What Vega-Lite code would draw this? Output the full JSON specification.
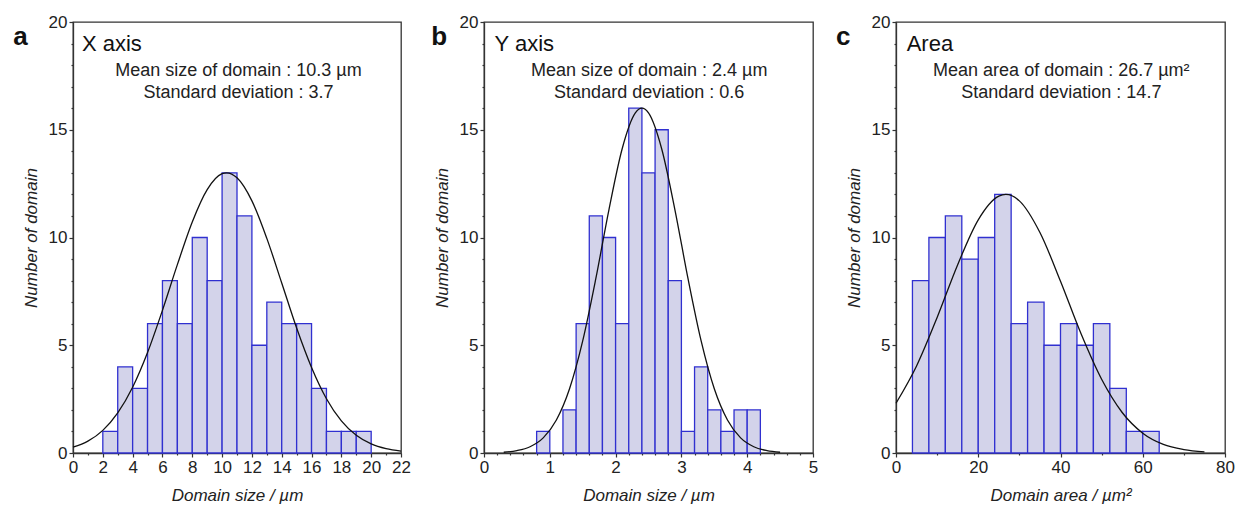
{
  "$schema": "https://vega.github.io/schema/vega-lite/v6.json",
  "background": "white",
  "padding": {"left": 12, "top": 12, "right": 5, "bottom": 5},
  "bounds": "flush",
  "spacing": 83,
  "config": {
    "font": "Liberation Sans",
    "view": {"stroke": "#333333", "strokeWidth": 1.3},
    "axis": {
      "grid": false,
      "domainColor": "#333333",
      "domainWidth": 1.3,
      "tickColor": "#333333",
      "tickWidth": 1.2,
      "tickCount": 200,
      "labelColor": "#222222",
      "labelFont": "Liberation Sans",
      "labelFontSize": 17,
      "labelPadding": 2,
      "labelOverlap": false,
      "labelFlush": false,
      "titleColor": "#222222",
      "titleFont": "Liberation Sans",
      "titleFontSize": 17,
      "titleFontStyle": "italic",
      "titleFontWeight": "normal"
    },
    "axisY": {"titlePadding": 8},
    "axisX": {"titlePadding": 12}
  },
  "datasets": {
    "aBins": [
      {"lo": 2, "hi": 3, "n": 1}, {"lo": 3, "hi": 4, "n": 4}, {"lo": 4, "hi": 5, "n": 3},
      {"lo": 5, "hi": 6, "n": 6}, {"lo": 6, "hi": 7, "n": 8}, {"lo": 7, "hi": 8, "n": 6},
      {"lo": 8, "hi": 9, "n": 10}, {"lo": 9, "hi": 10, "n": 8}, {"lo": 10, "hi": 11, "n": 13},
      {"lo": 11, "hi": 12, "n": 11}, {"lo": 12, "hi": 13, "n": 5}, {"lo": 13, "hi": 14, "n": 7},
      {"lo": 14, "hi": 15, "n": 6}, {"lo": 15, "hi": 16, "n": 6}, {"lo": 16, "hi": 17, "n": 3},
      {"lo": 17, "hi": 18, "n": 1}, {"lo": 18, "hi": 19, "n": 1}, {"lo": 19, "hi": 20, "n": 1}
    ],
    "aFit": [
      {"x": 0, "y": 0.27}, {"x": 1, "y": 0.55}, {"x": 2, "y": 1.05}, {"x": 3, "y": 1.86},
      {"x": 4, "y": 3.05}, {"x": 5, "y": 4.66}, {"x": 6, "y": 6.62}, {"x": 7, "y": 8.74},
      {"x": 8, "y": 10.72}, {"x": 9, "y": 12.22}, {"x": 10, "y": 12.96}, {"x": 10.3, "y": 13.0},
      {"x": 11, "y": 12.77}, {"x": 12, "y": 11.7}, {"x": 13, "y": 9.96}, {"x": 14, "y": 7.89},
      {"x": 15, "y": 5.8}, {"x": 16, "y": 3.97}, {"x": 17, "y": 2.52}, {"x": 18, "y": 1.49},
      {"x": 19, "y": 0.82}, {"x": 20, "y": 0.42}, {"x": 21, "y": 0.2}, {"x": 22, "y": 0.09}
    ],
    "bBins": [
      {"lo": 0.8, "hi": 1.0, "n": 1}, {"lo": 1.2, "hi": 1.4, "n": 2}, {"lo": 1.4, "hi": 1.6, "n": 6},
      {"lo": 1.6, "hi": 1.8, "n": 11}, {"lo": 1.8, "hi": 2.0, "n": 10}, {"lo": 2.0, "hi": 2.2, "n": 6},
      {"lo": 2.2, "hi": 2.4, "n": 16}, {"lo": 2.4, "hi": 2.6, "n": 13}, {"lo": 2.6, "hi": 2.8, "n": 15},
      {"lo": 2.8, "hi": 3.0, "n": 8}, {"lo": 3.0, "hi": 3.2, "n": 1}, {"lo": 3.2, "hi": 3.4, "n": 4},
      {"lo": 3.4, "hi": 3.6, "n": 2}, {"lo": 3.6, "hi": 3.8, "n": 1}, {"lo": 3.8, "hi": 4.0, "n": 2},
      {"lo": 4.0, "hi": 4.2, "n": 2}
    ],
    "bFit": [
      {"x": 0.3, "y": 0.035}, {"x": 0.5, "y": 0.11}, {"x": 0.7, "y": 0.29}, {"x": 0.9, "y": 0.7},
      {"x": 1.1, "y": 1.53}, {"x": 1.3, "y": 2.98}, {"x": 1.5, "y": 5.2}, {"x": 1.7, "y": 8.1},
      {"x": 1.9, "y": 11.31}, {"x": 2.1, "y": 14.12}, {"x": 2.3, "y": 15.78}, {"x": 2.4, "y": 16.0},
      {"x": 2.5, "y": 15.78}, {"x": 2.7, "y": 14.12}, {"x": 2.9, "y": 11.31}, {"x": 3.1, "y": 8.1},
      {"x": 3.3, "y": 5.2}, {"x": 3.5, "y": 2.98}, {"x": 3.7, "y": 1.53}, {"x": 3.9, "y": 0.7},
      {"x": 4.1, "y": 0.29}, {"x": 4.3, "y": 0.11}, {"x": 4.5, "y": 0.035}
    ],
    "cBins": [
      {"lo": 4, "hi": 8, "n": 8}, {"lo": 8, "hi": 12, "n": 10}, {"lo": 12, "hi": 16, "n": 11},
      {"lo": 16, "hi": 20, "n": 9}, {"lo": 20, "hi": 24, "n": 10}, {"lo": 24, "hi": 28, "n": 12},
      {"lo": 28, "hi": 32, "n": 6}, {"lo": 32, "hi": 36, "n": 7}, {"lo": 36, "hi": 40, "n": 5},
      {"lo": 40, "hi": 44, "n": 6}, {"lo": 44, "hi": 48, "n": 5}, {"lo": 48, "hi": 52, "n": 6},
      {"lo": 52, "hi": 56, "n": 3}, {"lo": 56, "hi": 60, "n": 1}, {"lo": 60, "hi": 64, "n": 1}
    ],
    "cFit": [
      {"x": 0, "y": 2.31}, {"x": 5, "y": 4.04}, {"x": 10, "y": 6.29}, {"x": 15, "y": 8.74},
      {"x": 20, "y": 10.82}, {"x": 25, "y": 11.92}, {"x": 26.7, "y": 12.0}, {"x": 30, "y": 11.7},
      {"x": 35, "y": 10.23}, {"x": 40, "y": 7.97}, {"x": 45, "y": 5.53}, {"x": 50, "y": 3.42},
      {"x": 55, "y": 1.88}, {"x": 60, "y": 0.92}, {"x": 65, "y": 0.4}, {"x": 70, "y": 0.16},
      {"x": 75, "y": 0.05}
    ],
    "aText": [{"letter": "a", "head": "X axis", "stats": "Mean size of domain : 10.3 µm\nStandard deviation : 3.7"}],
    "bText": [{"letter": "b", "head": "Y axis", "stats": "Mean size of domain : 2.4 µm\nStandard deviation : 0.6"}],
    "cText": [{"letter": "c", "head": "Area", "stats": "Mean area of domain : 26.7 µm²\nStandard deviation : 14.7"}]
  },
  "hconcat": [
    {
      "width": 328,
      "height": 431,
      "layer": [
        {
          "data": {"name": "aBins"},
          "mark": {"type": "rect", "fill": "#d3d3ea", "stroke": "#3030d0", "strokeWidth": 1.3},
          "encoding": {
            "x": {"field": "lo", "type": "quantitative", "scale": {"domain": [0, 22], "nice": false},
              "axis": {"title": "Domain size / µm", "values": [0,1,2,3,4,5,6,7,8,9,10,11,12,13,14,15,16,17,18,19,20,21,22],
                "tickCount": 200, "labelOverlap": false, "labelFlush": false,
                "labelExpr": "datum.value % 2 === 0 ? toString(datum.value) : ''",
                "tickSize": {"condition": {"test": "datum.value % 2 === 0", "value": 4}, "value": 2}}},
            "x2": {"field": "hi"},
            "y": {"field": "n", "type": "quantitative", "scale": {"domain": [0, 20], "nice": false},
              "axis": {"title": "Number of domain", "values": [0,1,2,3,4,5,6,7,8,9,10,11,12,13,14,15,16,17,18,19,20],
                "tickCount": 200, "labelOverlap": false, "labelFlush": false,
                "labelExpr": "datum.value % 5 === 0 ? toString(datum.value) : ''",
                "tickSize": {"condition": {"test": "datum.value % 5 === 0", "value": 4}, "value": 2}}},
            "y2": {"datum": 0}
          }
        },
        {
          "data": {"name": "aFit"},
          "mark": {"type": "line", "color": "#111111", "strokeWidth": 1.3, "interpolate": "monotone"},
          "encoding": {"x": {"field": "x", "type": "quantitative"}, "y": {"field": "y", "type": "quantitative"}}
        },
        {
          "data": {"name": "aText"},
          "mark": {"type": "text", "align": "left", "baseline": "alphabetic", "fontSize": 26, "fontWeight": "bold", "color": "#111111"},
          "encoding": {"x": {"datum": -4.0}, "y": {"datum": 18.93}, "text": {"field": "letter"}}
        },
        {
          "data": {"name": "aText"},
          "mark": {"type": "text", "align": "left", "baseline": "alphabetic", "fontSize": 22, "color": "#111111"},
          "encoding": {"x": {"datum": 0.6}, "y": {"datum": 18.65}, "text": {"field": "head"}}
        },
        {
          "data": {"name": "aText"},
          "mark": {"type": "text", "align": "center", "baseline": "alphabetic", "fontSize": 18, "lineBreak": "\n", "lineHeight": 22, "color": "#222222"},
          "encoding": {"x": {"datum": 11.1}, "y": {"datum": 17.49}, "text": {"field": "stats"}}
        }
      ]
    },
    {
      "width": 329,
      "height": 431,
      "layer": [
        {
          "data": {"name": "bBins"},
          "mark": {"type": "rect", "fill": "#d3d3ea", "stroke": "#3030d0", "strokeWidth": 1.3},
          "encoding": {
            "x": {"field": "lo", "type": "quantitative", "scale": {"domain": [0, 5], "nice": false},
              "axis": {"title": "Domain size / µm", "values": [0,0.2,0.4,0.6,0.8,1,1.2,1.4,1.6,1.8,2,2.2,2.4,2.6,2.8,3,3.2,3.4,3.6,3.8,4,4.2,4.4,4.6,4.8,5],
                "tickCount": 200, "labelOverlap": false, "labelFlush": false,
                "labelExpr": "round(datum.value) === datum.value ? toString(datum.value) : ''",
                "tickSize": {"condition": {"test": "round(datum.value) === datum.value", "value": 4}, "value": 2}}},
            "x2": {"field": "hi"},
            "y": {"field": "n", "type": "quantitative", "scale": {"domain": [0, 20], "nice": false},
              "axis": {"title": "Number of domain", "values": [0,1,2,3,4,5,6,7,8,9,10,11,12,13,14,15,16,17,18,19,20],
                "tickCount": 200, "labelOverlap": false, "labelFlush": false,
                "labelExpr": "datum.value % 5 === 0 ? toString(datum.value) : ''",
                "tickSize": {"condition": {"test": "datum.value % 5 === 0", "value": 4}, "value": 2}}},
            "y2": {"datum": 0}
          }
        },
        {
          "data": {"name": "bFit"},
          "mark": {"type": "line", "color": "#111111", "strokeWidth": 1.3, "interpolate": "monotone"},
          "encoding": {"x": {"field": "x", "type": "quantitative"}, "y": {"field": "y", "type": "quantitative"}}
        },
        {
          "data": {"name": "bText"},
          "mark": {"type": "text", "align": "left", "baseline": "alphabetic", "fontSize": 26, "fontWeight": "bold", "color": "#111111"},
          "encoding": {"x": {"datum": -0.8}, "y": {"datum": 18.93}, "text": {"field": "letter"}}
        },
        {
          "data": {"name": "bText"},
          "mark": {"type": "text", "align": "left", "baseline": "alphabetic", "fontSize": 22, "color": "#111111"},
          "encoding": {"x": {"datum": 0.16}, "y": {"datum": 18.65}, "text": {"field": "head"}}
        },
        {
          "data": {"name": "bText"},
          "mark": {"type": "text", "align": "center", "baseline": "alphabetic", "fontSize": 18, "lineBreak": "\n", "lineHeight": 22, "color": "#222222"},
          "encoding": {"x": {"datum": 2.51}, "y": {"datum": 17.49}, "text": {"field": "stats"}}
        }
      ]
    },
    {
      "width": 329,
      "height": 431,
      "layer": [
        {
          "data": {"name": "cBins"},
          "mark": {"type": "rect", "fill": "#d3d3ea", "stroke": "#3030d0", "strokeWidth": 1.3},
          "encoding": {
            "x": {"field": "lo", "type": "quantitative", "scale": {"domain": [0, 80], "nice": false},
              "axis": {"title": "Domain area / µm²", "values": [0,10,20,30,40,50,60,70,80],
                "tickCount": 200, "labelOverlap": false, "labelFlush": false,
                "labelExpr": "datum.value % 20 === 0 ? toString(datum.value) : ''",
                "tickSize": {"condition": {"test": "datum.value % 20 === 0", "value": 4}, "value": 2}}},
            "x2": {"field": "hi"},
            "y": {"field": "n", "type": "quantitative", "scale": {"domain": [0, 20], "nice": false},
              "axis": {"title": "Number of domain", "values": [0,1,2,3,4,5,6,7,8,9,10,11,12,13,14,15,16,17,18,19,20],
                "tickCount": 200, "labelOverlap": false, "labelFlush": false,
                "labelExpr": "datum.value % 5 === 0 ? toString(datum.value) : ''",
                "tickSize": {"condition": {"test": "datum.value % 5 === 0", "value": 4}, "value": 2}}},
            "y2": {"datum": 0}
          }
        },
        {
          "data": {"name": "cFit"},
          "mark": {"type": "line", "color": "#111111", "strokeWidth": 1.3, "interpolate": "monotone"},
          "encoding": {"x": {"field": "x", "type": "quantitative"}, "y": {"field": "y", "type": "quantitative"}}
        },
        {
          "data": {"name": "cText"},
          "mark": {"type": "text", "align": "left", "baseline": "alphabetic", "fontSize": 26, "fontWeight": "bold", "color": "#111111"},
          "encoding": {"x": {"datum": -14.6}, "y": {"datum": 18.93}, "text": {"field": "letter"}}
        },
        {
          "data": {"name": "cText"},
          "mark": {"type": "text", "align": "left", "baseline": "alphabetic", "fontSize": 22, "color": "#111111"},
          "encoding": {"x": {"datum": 2.6}, "y": {"datum": 18.65}, "text": {"field": "head"}}
        },
        {
          "data": {"name": "cText"},
          "mark": {"type": "text", "align": "center", "baseline": "alphabetic", "fontSize": 18, "lineBreak": "\n", "lineHeight": 22, "color": "#222222"},
          "encoding": {"x": {"datum": 40.2}, "y": {"datum": 17.49}, "text": {"field": "stats"}}
        }
      ]
    }
  ]
}
